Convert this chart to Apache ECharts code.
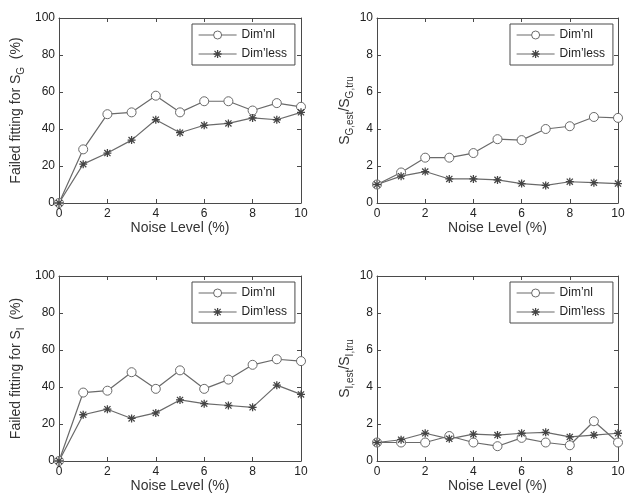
<!DOCTYPE html>
<html>
<head>
<meta charset="utf-8">
<script src="https://cdn.jsdelivr.net/npm/echarts@6/dist/echarts.min.js"></script>
<style>
  html, body { margin: 0; background: #fff; }
  #main { width: 628px; height: 496px; }
</style>
</head>
<body>
<div id="main"></div>
<script>
  // noise level (%) on every x axis
  var noiseLevels = [0, 1, 2, 3, 4, 5, 6, 7, 8, 9, 10];

  // top left: failed fitting for S_G (%)
  var failSgDimnl = [0, 29, 48, 49, 58, 49, 55, 55, 50, 54, 52];
  var failSgDimless = [0, 21, 27, 34, 45, 38, 42, 43, 46, 45, 49];
  // top right: S_G,est / S_G,tru
  var ratioSgDimnl = [1, 1.65, 2.45, 2.45, 2.7, 3.45, 3.4, 4.0, 4.15, 4.65, 4.6];
  var ratioSgDimless = [1, 1.45, 1.7, 1.3, 1.3, 1.25, 1.05, 0.95, 1.15, 1.1, 1.05];
  // bottom left: failed fitting for S_I (%)
  var failSiDimnl = [0, 37, 38, 48, 39, 49, 39, 44, 52, 55, 54];
  var failSiDimless = [0, 25, 28, 23, 26, 33, 31, 30, 29, 41, 36];
  // bottom right: S_I,est / S_I,tru
  var ratioSiDimnl = [1, 1.0, 1.0, 1.35, 1.0, 0.8, 1.25, 1.0, 0.85, 2.15, 1.0];
  var ratioSiDimless = [1, 1.15, 1.5, 1.2, 1.45, 1.4, 1.5, 1.55, 1.3, 1.4, 1.5];

  var seriesNames = ['Dim\u2019nl', 'Dim\u2019less'];

  var FONT = '"Liberation Sans", Arial, sans-serif';
  var LINE = '#6a6a6a';
  var AXIS = '#4a4a4a';
  // matlab style asterisk
  var STAR = 'path://M4.2 0L5.8 0L5.8 10L4.2 10Z M0 4.2L10 4.2L10 5.8L0 5.8Z M0.6 1.7L1.7 0.6L9.4 8.3L8.3 9.4Z M8.3 0.6L9.4 1.7L1.7 9.4L0.6 8.3Z';

  var grids = [
    {left: 59, top: 18, width: 242, height: 185},
    {left: 377, top: 18, width: 241, height: 185},
    {left: 59, top: 276, width: 242, height: 185},
    {left: 377, top: 276, width: 241, height: 185}
  ];

  var subRich = {
    m: {fontSize: 14, fontFamily: FONT, color: '#333', lineHeight: 18, verticalAlign: 'bottom'},
    s: {fontSize: 10, fontFamily: FONT, color: '#333', lineHeight: 12, verticalAlign: 'bottom', padding: [0, 0, -3, 0]}
  };

  var panels = [
    {yMax: 100, yStep: 20, yName: '{m|Failed fitting for S}{s|G}{m|  (%)}', yGap: 36, a: failSgDimnl, b: failSgDimless},
    {yMax: 10, yStep: 2, yName: '{m|S}{s|G,est}{m|/S}{s|G,tru}', yGap: 25, a: ratioSgDimnl, b: ratioSgDimless},
    {yMax: 100, yStep: 20, yName: '{m|Failed fitting for S}{s|I}{m|  (%)}', yGap: 36, a: failSiDimnl, b: failSiDimless},
    {yMax: 10, yStep: 2, yName: '{m|S}{s|I,est}{m|/S}{s|I,tru}', yGap: 25, a: ratioSiDimnl, b: ratioSiDimless}
  ];

  function pairs(vals) {
    return noiseLevels.map(function (x, i) { return [x, vals[i]]; });
  }

  var xAxes = [], yAxes = [], series = [], legends = [];

  panels.forEach(function (p, g) {
    var tick = {inside: true, length: 4, lineStyle: {color: AXIS}};
    var axLine = {onZero: false, lineStyle: {color: AXIS, width: 1}};
    xAxes.push({
      type: 'value', gridIndex: g, min: 0, max: 10, interval: 2,
      axisLine: axLine, axisTick: tick, splitLine: {show: false},
      axisLabel: {color: '#222', fontSize: 12, fontFamily: FONT, margin: 5},
      name: 'Noise Level (%)', nameLocation: 'middle', nameGap: 16,
      nameTextStyle: {color: '#333', fontSize: 14, fontFamily: FONT}
    });
    xAxes.push({
      type: 'value', gridIndex: g, position: 'top', min: 0, max: 10, interval: 2,
      axisLine: axLine, axisTick: tick, splitLine: {show: false}, axisLabel: {show: false}
    });
    yAxes.push({
      type: 'value', gridIndex: g, min: 0, max: p.yMax, interval: p.yStep,
      axisLine: axLine, axisTick: tick, splitLine: {show: false},
      axisLabel: {color: '#222', fontSize: 12, fontFamily: FONT, margin: 4},
      name: p.yName, nameLocation: 'middle', nameGap: p.yGap,
      nameTextStyle: {rich: subRich}
    });
    yAxes.push({
      type: 'value', gridIndex: g, position: 'right', min: 0, max: p.yMax, interval: p.yStep,
      axisLine: axLine, axisTick: tick, splitLine: {show: false}, axisLabel: {show: false}
    });

    series.push({
      name: seriesNames[0], type: 'line', xAxisIndex: g * 2, yAxisIndex: g * 2,
      data: pairs(p.a), symbol: 'circle', symbolSize: 9,
      lineStyle: {color: LINE, width: 1.2},
      itemStyle: {color: '#fff', borderColor: LINE, borderWidth: 1}
    });
    series.push({
      name: seriesNames[1], type: 'line', xAxisIndex: g * 2, yAxisIndex: g * 2,
      data: pairs(p.b), symbol: STAR, symbolSize: 8,
      lineStyle: {color: LINE, width: 1.2}, itemStyle: {color: '#444'}
    });

    legends.push({
      data: seriesNames, orient: 'vertical',
      left: grids[g].left + 133, top: grids[g].top + 6,
      width: 103, itemWidth: 38, itemHeight: 10, itemGap: 7,
      padding: [5, 8, 5, 6],
      borderColor: AXIS, borderWidth: 1, backgroundColor: '#fff',
      itemStyle: {borderWidth: 1},
      lineStyle: {width: 1.2},
      textStyle: {color: '#222', fontSize: 12, fontFamily: FONT},
      selectedMode: false
    });
  });

  var chart = echarts.init(document.getElementById('main'), null, {renderer: 'canvas'});
  chart.setOption({
    backgroundColor: '#fff',
    animation: false,
    grid: grids,
    xAxis: xAxes,
    yAxis: yAxes,
    legend: legends,
    series: series
  });
</script>
</body>
</html>
